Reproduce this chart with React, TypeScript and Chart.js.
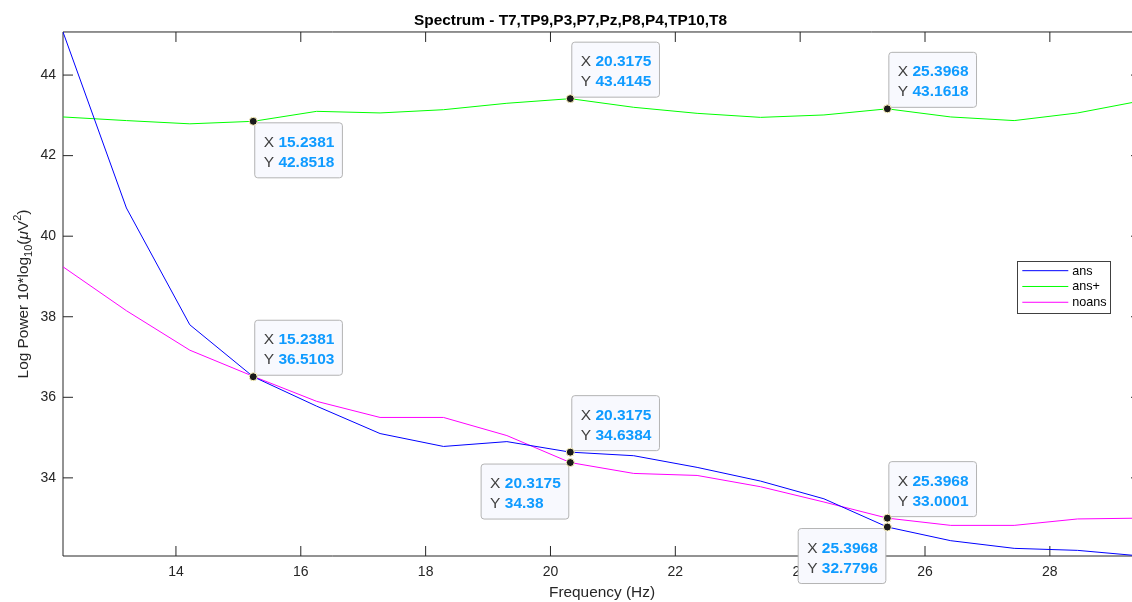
import React, { useEffect, useRef } from 'react';
import { Chart, registerables } from 'chart.js';

Chart.register(...registerables);

// ---------- data ----------
const frequencies = [12.1905, 13.2063, 14.2222, 15.2381, 16.254, 17.2698, 18.2857, 19.3016, 20.3175, 21.3333, 22.3492, 23.3651, 24.381, 25.3968, 26.4127, 27.4286, 28.4444, 29.4603];
const ansValues = [45.07, 40.7, 37.8, 36.5103, 35.78, 35.1, 34.78, 34.9, 34.6384, 34.55, 34.26, 33.92, 33.48, 32.7796, 32.44, 32.25, 32.2, 32.06];
const ansPlusValues = [42.96, 42.87, 42.79, 42.8518, 43.1, 43.06, 43.14, 43.3, 43.4145, 43.2, 43.05, 42.95, 43.01, 43.1618, 42.96, 42.87, 43.06, 43.36];
const noansValues = [39.24, 38.15, 37.17, 36.52, 35.9, 35.5, 35.5, 35.05, 34.38, 34.11, 34.06, 33.78, 33.4, 33.0001, 32.82, 32.82, 32.98, 33.0];
const seriesLabels = ['ans', 'ans+', 'noans'];
const seriesColors = ['#0000ff', '#00ff00', '#ff00ff'];
const xTickValues = [14, 16, 18, 20, 22, 24, 26, 28];
const yTickValues = [34, 36, 38, 40, 42, 44];
const chartTitle = 'Spectrum - T7,TP9,P3,P7,Pz,P8,P4,TP10,T8';
const xAxisTitle = 'Frequency (Hz)';
// data tips: series index, point index, which side the box opens to
const tipSeries = [1, 1, 1, 0, 0, 2, 2, 0];
const tipPoints = [3, 8, 13, 3, 8, 8, 13, 13];
const tipSides = ['se', 'ne', 'ne', 'ne', 'ne', 'sw', 'ne', 'sw'];

const seriesList = [ansValues, ansPlusValues, noansValues];
const FAMILY = '"Liberation Sans", Arial, Helvetica, sans-serif';

const fmt = (v: number) => String(Number(v.toPrecision(6)));

const axesPlugin = {
  id: 'matlabAxes',
  beforeDatasetsDraw(chart: any) {
    const { ctx, chartArea: a, scales } = chart;
    ctx.save();
    ctx.strokeStyle = '#262626';
    ctx.lineWidth = 1;
    ctx.beginPath();
    ctx.rect(a.left, a.top, a.right - a.left, a.bottom - a.top);
    ctx.stroke();
    const tl = 10;
    ctx.beginPath();
    xTickValues.forEach((v) => {
      const p = scales.x.getPixelForValue(v);
      ctx.moveTo(p, a.bottom); ctx.lineTo(p, a.bottom - tl);
      ctx.moveTo(p, a.top); ctx.lineTo(p, a.top + tl);
    });
    yTickValues.forEach((v) => {
      const p = scales.y.getPixelForValue(v);
      ctx.moveTo(a.left, p); ctx.lineTo(a.left + tl, p);
      ctx.moveTo(a.right, p); ctx.lineTo(a.right - tl, p);
    });
    ctx.stroke();
    ctx.restore();
  },
};

const yTitlePlugin = {
  id: 'yTitle',
  afterDraw(chart: any) {
    const { ctx, chartArea: a } = chart;
    const big = 15.4, small = 11;
    const parts = [
      { t: 'Log Power 10*log', f: `${big}px ${FAMILY}`, dy: 0 },
      { t: '10', f: `${small}px ${FAMILY}`, dy: 4 },
      { t: '(', f: `${big}px ${FAMILY}`, dy: 0 },
      { t: 'μ', f: `italic ${big}px ${FAMILY}`, dy: 0 },
      { t: 'V', f: `${big}px ${FAMILY}`, dy: 0 },
      { t: '2', f: `${small}px ${FAMILY}`, dy: -7 },
      { t: ')', f: `${big}px ${FAMILY}`, dy: 0 },
    ];
    ctx.save();
    let total = 0;
    const widths = parts.map((p) => { ctx.font = p.f; const w = ctx.measureText(p.t).width; total += w; return w; });
    ctx.translate(27.5, (a.top + a.bottom) / 2);
    ctx.rotate(-Math.PI / 2);
    ctx.fillStyle = '#262626';
    ctx.textBaseline = 'alphabetic';
    ctx.textAlign = 'left';
    let x = -total / 2;
    parts.forEach((p, i) => { ctx.font = p.f; ctx.fillText(p.t, x, p.dy); x += widths[i]; });
    ctx.restore();
  },
};

const legendPlugin = {
  id: 'boxLegend',
  afterDraw(chart: any) {
    const { ctx, chartArea: a } = chart;
    const left = a.right - 123.7, top = a.top + 228.7, w = 93.4, h = 51.6;
    ctx.save();
    ctx.fillStyle = '#ffffff';
    ctx.fillRect(left, top, w, h);
    ctx.strokeStyle = '#404040';
    ctx.lineWidth = 1;
    ctx.strokeRect(Math.round(left) + 0.5, Math.round(top) + 0.5, Math.round(w), Math.round(h));
    ctx.font = `12.6px ${FAMILY}`;
    ctx.textBaseline = 'middle';
    ctx.textAlign = 'left';
    chart.data.datasets.forEach((ds: any, i: number) => {
      const y = top + 10 + i * 15.8;
      ctx.strokeStyle = ds.borderColor;
      ctx.beginPath();
      ctx.moveTo(left + 5, y); ctx.lineTo(left + 51, y);
      ctx.stroke();
      ctx.fillStyle = '#000000';
      ctx.fillText(ds.label, left + 55, y + 0.5);
    });
    ctx.restore();
  },
};

const tipsPlugin = {
  id: 'dataTips',
  afterDraw(chart: any) {
    const { ctx, scales } = chart;
    const lbl = `15.5px ${FAMILY}`, val = `bold 15.5px ${FAMILY}`;
    const pts: Array<[number, number]> = [];
    ctx.save();
    tipSeries.forEach((s, k) => {
      const idx = tipPoints[k];
      const xv = frequencies[idx], yv = seriesList[s][idx];
      const px = scales.x.getPixelForValue(xv), py = scales.y.getPixelForValue(yv);
      pts.push([px, py]);
      const sx = fmt(xv), sy = fmt(yv);
      ctx.font = lbl;
      const wX = ctx.measureText('X ').width, wY = ctx.measureText('Y ').width;
      ctx.font = val;
      const w1 = ctx.measureText(sx).width, w2 = ctx.measureText(sy).width;
      const w = 9 + Math.max(wX + w1, wY + w2) + 8, h = 55;
      const side = tipSides[k];
      const bx = side.includes('e') ? px + 1.5 : px - 1.5 - w;
      const by = side.startsWith('n') ? py - 1.5 - h : py + 1.5;
      ctx.beginPath();
      (ctx as any).roundRect(bx, by, w, h, 3);
      ctx.fillStyle = '#f8f9fe';
      ctx.fill();
      ctx.strokeStyle = '#b4b4b4';
      ctx.lineWidth = 1;
      ctx.stroke();
      ctx.textBaseline = 'alphabetic';
      ctx.textAlign = 'left';
      ctx.font = lbl; ctx.fillStyle = '#404040';
      ctx.fillText('X', bx + 9, by + 24);
      ctx.fillText('Y', bx + 9, by + 44);
      ctx.font = val; ctx.fillStyle = '#0f9bff';
      ctx.fillText(sx, bx + 9 + wX, by + 24);
      ctx.fillText(sy, bx + 9 + wY, by + 44);
    });
    pts.forEach(([px, py]) => {
      ctx.beginPath();
      ctx.arc(px, py, 4, 0, Math.PI * 2);
      ctx.fillStyle = '#1a1a1a';
      ctx.fill();
      ctx.strokeStyle = '#fff6c0';
      ctx.lineWidth = 1;
      ctx.stroke();
    });
    ctx.restore();
  },
};

export default function App() {
  const ref = useRef<HTMLCanvasElement | null>(null);
  useEffect(() => {
    if (!ref.current) return;
    const all = seriesList.flat();
    const chart = new Chart(ref.current, {
      type: 'line',
      data: {
        datasets: seriesList.map((s, i) => ({
          label: seriesLabels[i],
          data: frequencies.map((f, j) => ({ x: f, y: s[j] })),
          borderColor: seriesColors[i],
          backgroundColor: seriesColors[i],
          borderWidth: 1,
          pointRadius: 0,
          pointHoverRadius: 0,
          tension: 0,
          fill: false,
        })),
      },
      options: {
        animation: false,
        responsive: false,
        devicePixelRatio: 1,
        events: [],
        layout: { padding: { left: 0, top: 0, right: 19, bottom: 0 } },
        plugins: {
          legend: { display: false },
          tooltip: { enabled: false },
          title: {
            display: true,
            text: chartTitle,
            color: '#000000',
            font: { family: FAMILY, size: 15.4, weight: 'bold', lineHeight: 1.2 },
            padding: { top: 11.3, bottom: 2.2 },
          },
        },
        scales: {
          x: {
            type: 'linear',
            min: Math.min(...frequencies),
            max: Math.max(...frequencies),
            afterBuildTicks: (s: any) => { s.ticks = xTickValues.map((v) => ({ value: v })); },
            afterFit: (s: any) => { s.height = 46; },
            grid: { display: false, drawTicks: false },
            border: { display: false },
            ticks: { color: '#262626', font: { family: FAMILY, size: 14 }, padding: 7.6, maxRotation: 0, autoSkip: false, callback: (v: any) => String(v) },
            title: { display: true, text: xAxisTitle, color: '#262626', font: { family: FAMILY, size: 15.4, lineHeight: 1.2 }, padding: { top: 0, bottom: 0 } },
          },
          y: {
            type: 'linear',
            min: Math.min(...all),
            max: Math.max(...all),
            afterBuildTicks: (s: any) => { s.ticks = yTickValues.map((v) => ({ value: v })); },
            afterFit: (s: any) => { s.width = 63; },
            grid: { display: false, drawTicks: false },
            border: { display: false },
            ticks: { color: '#262626', font: { family: FAMILY, size: 14 }, padding: 7, autoSkip: false, callback: (v: any) => String(v) },
          },
        },
      } as any,
      plugins: [axesPlugin, legendPlugin, yTitlePlugin, tipsPlugin],
    });
    return () => chart.destroy();
  }, []);
  return (
    <div style={{ position: 'fixed', left: 0, top: 0, width: 1132, height: 602, overflow: 'hidden', background: '#ffffff' }}>
      <canvas ref={ref} width={1160} height={602} style={{ display: 'block', width: 1160, height: 602 }} />
    </div>
  );
}
